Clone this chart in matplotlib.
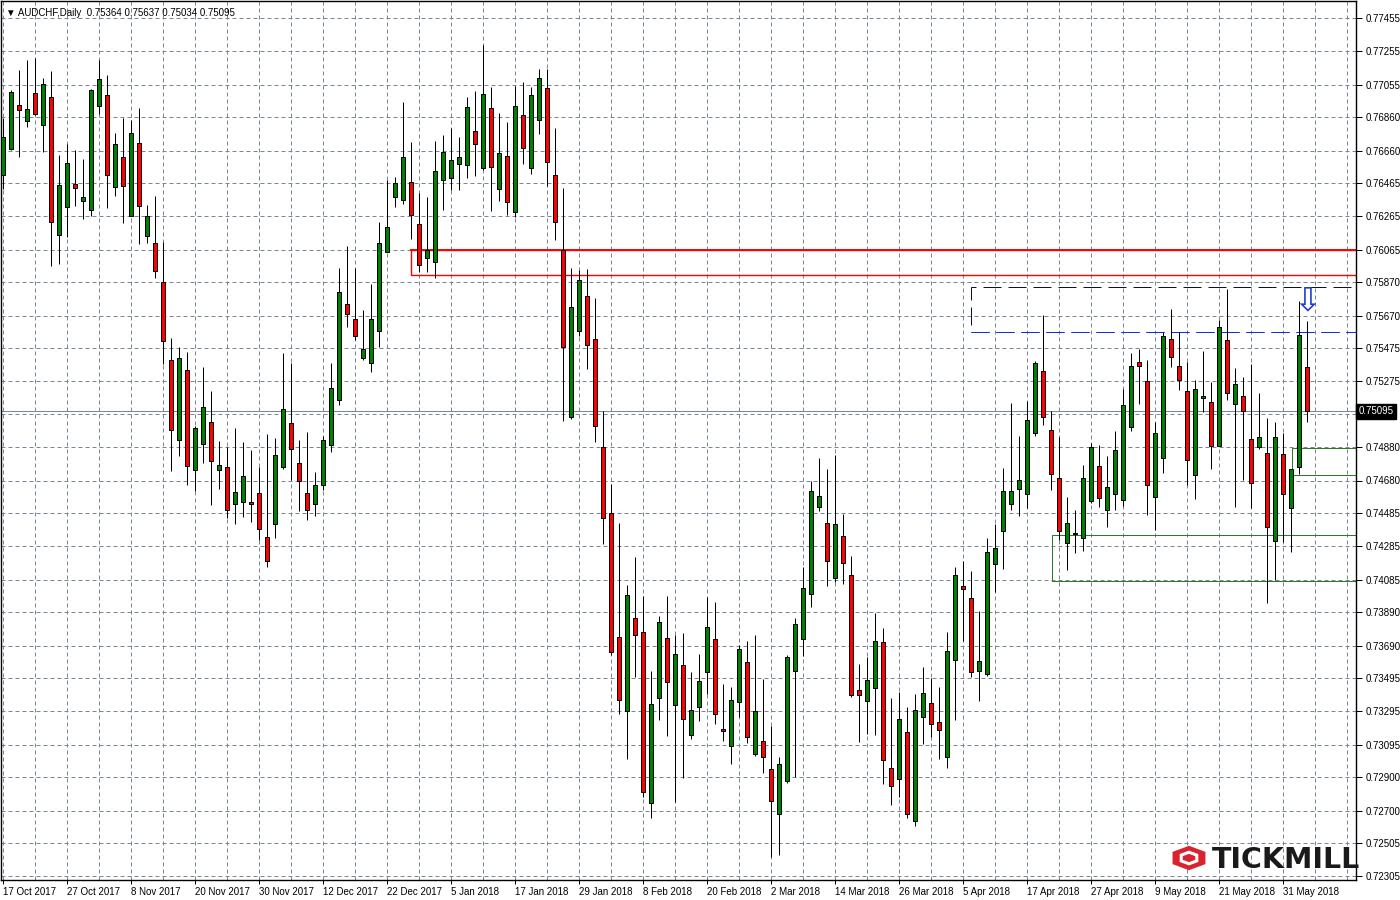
import numpy as np
import pandas as pd
import matplotlib
matplotlib.use("Agg")
import matplotlib.pyplot as plt
from matplotlib.patches import Rectangle, RegularPolygon
import matplotlib.transforms as mtransforms

plt.rcParams['font.family'] = ['Liberation Sans', 'DejaVu Sans']

# daily bars, weekdays only, no bars on 25 Dec and 1 Jan
dates = pd.bdate_range("2017-10-17", "2018-06-05")
dates = dates[~dates.isin([pd.Timestamp("2017-12-25"), pd.Timestamp("2018-01-01")])]

opens = [
    0.76513, 0.76669, 0.76933, 0.76837, 0.77005, 0.76813, 0.76981, 0.76153, 0.76321, 0.76459,
    0.76357, 0.76303, 0.76927, 0.76993, 0.76441, 0.76621, 0.76267, 0.76705, 0.76147, 0.76105,
    0.75871, 0.75403, 0.74923, 0.75343, 0.74743, 0.74899, 0.75031, 0.74743, 0.74761, 0.74539,
    0.74551, 0.74551, 0.74605, 0.74341, 0.74419, 0.74761, 0.75025, 0.74785, 0.74605, 0.74539,
    0.74653, 0.74893, 0.75163, 0.75739, 0.75649, 0.75415, 0.75385, 0.75577, 0.76051, 0.76381,
    0.76363, 0.76471, 0.76219, 0.76015, 0.75991, 0.76483, 0.76495, 0.76579, 0.76573, 0.76777,
    0.76555, 0.76915, 0.76429, 0.76627, 0.76291, 0.76873, 0.76555, 0.76843, 0.77035, 0.76513,
    0.76063, 0.75061, 0.75577, 0.75787, 0.75529, 0.74881, 0.74485, 0.73741, 0.73297, 0.73855,
    0.73771, 0.72745, 0.73375, 0.73735, 0.73333, 0.73573, 0.73153, 0.73321, 0.73531, 0.73729,
    0.73189, 0.73087, 0.73351, 0.73591, 0.73039, 0.73117, 0.72949, 0.72679, 0.72877, 0.73537,
    0.73729, 0.73999, 0.74521, 0.74425, 0.74095, 0.74347, 0.74113, 0.73423, 0.73357, 0.73435,
    0.73711, 0.72955, 0.72889, 0.73171, 0.72637, 0.73261, 0.73345, 0.73231, 0.73021, 0.73603,
    0.74047, 0.73975, 0.73537, 0.73519, 0.74179, 0.74377, 0.74539, 0.74629, 0.74599, 0.74965,
    0.75337, 0.74983, 0.74695, 0.74305, 0.74359, 0.74335, 0.74557, 0.74767, 0.74503, 0.74599,
    0.74563, 0.75001, 0.75391, 0.75277, 0.74581, 0.74815, 0.75529, 0.75367, 0.75217, 0.74713,
    0.75175, 0.75151, 0.74887, 0.75523, 0.75139, 0.75187, 0.74929, 0.74881, 0.74845, 0.74317,
    0.74839, 0.74515, 0.74761, 0.75364,
]
highs = [
    0.76855, 0.77023, 0.77143, 0.77203, 0.77215, 0.77095, 0.77137, 0.76633, 0.76699, 0.76663,
    0.76609, 0.77029, 0.77203, 0.77113, 0.76765, 0.76855, 0.76843, 0.76915, 0.76333, 0.76387,
    0.76111, 0.75535, 0.75481, 0.75451, 0.75007, 0.75361, 0.75217, 0.74917, 0.74881, 0.74995,
    0.74911, 0.74863, 0.74761, 0.74959, 0.74935, 0.75445, 0.75385, 0.74923, 0.74971, 0.74731,
    0.74947, 0.75385, 0.75955, 0.76087, 0.75955, 0.75703, 0.75859, 0.76231, 0.76483, 0.76501,
    0.76951, 0.76711, 0.76405, 0.76381, 0.76717, 0.76753, 0.76795, 0.76741, 0.76981, 0.77017,
    0.77293, 0.77041, 0.76885, 0.76831, 0.77047, 0.77071, 0.77041, 0.77149, 0.77149, 0.76795,
    0.76435, 0.75955, 0.75943, 0.75949, 0.75775, 0.75097, 0.74659, 0.74425, 0.74053, 0.74221,
    0.73987, 0.73537, 0.73867, 0.73987, 0.73753, 0.73765, 0.73531, 0.73639, 0.73981, 0.73951,
    0.73459, 0.73441, 0.73693, 0.73717, 0.73753, 0.73489, 0.73207, 0.73021, 0.73633, 0.73855,
    0.74161, 0.74677, 0.74815, 0.74749, 0.74833, 0.74479, 0.74227, 0.73579, 0.73621, 0.73885,
    0.73795, 0.73375, 0.73411, 0.73321, 0.73399, 0.73561, 0.73495, 0.73441, 0.73771, 0.74161,
    0.74197, 0.74137, 0.73897, 0.74335, 0.74419, 0.74755, 0.75145, 0.74947, 0.75157, 0.75397,
    0.75673, 0.75097, 0.74941, 0.74581, 0.74503, 0.74773, 0.74905, 0.74893, 0.74827, 0.74977,
    0.75229, 0.75445, 0.75469, 0.75403, 0.75031, 0.75571, 0.75709, 0.75571, 0.75391, 0.75283,
    0.75457, 0.75271, 0.75643, 0.75829, 0.75355, 0.75301, 0.75379, 0.75205, 0.75055, 0.75031,
    0.74965, 0.74749, 0.75757, 0.75637,
]
lows = [
    0.76429, 0.76663, 0.76621, 0.76801, 0.76873, 0.76651, 0.75967, 0.75979, 0.76141, 0.76327,
    0.76249, 0.76267, 0.76879, 0.76315, 0.76387, 0.76225, 0.76267, 0.76099, 0.76105, 0.75895,
    0.75379, 0.74737, 0.74827, 0.74653, 0.74617, 0.74785, 0.74533, 0.74629, 0.74455, 0.74419,
    0.74461, 0.74431, 0.74323, 0.74161, 0.74335, 0.74749, 0.74683, 0.74497, 0.74443, 0.74467,
    0.74623, 0.74851, 0.75133, 0.75601, 0.75523, 0.75403, 0.75331, 0.75481, 0.76051, 0.76321,
    0.76339, 0.76129, 0.75931, 0.75931, 0.75895, 0.76303, 0.76423, 0.76423, 0.76495, 0.76507,
    0.76543, 0.76297, 0.76357, 0.76273, 0.76261, 0.76579, 0.76519, 0.76759, 0.76447, 0.76123,
    0.75037, 0.75049, 0.75547, 0.75349, 0.74911, 0.74299, 0.73633, 0.73279, 0.73009, 0.73501,
    0.72781, 0.72655, 0.73243, 0.73147, 0.72751, 0.72895, 0.73129, 0.73237, 0.73399, 0.73219,
    0.73117, 0.72979, 0.73261, 0.73105, 0.73027, 0.72925, 0.72421, 0.72433, 0.72865, 0.72901,
    0.73627, 0.73921, 0.74497, 0.74047, 0.74071, 0.74059, 0.73381, 0.73111, 0.73159, 0.73153,
    0.72859, 0.72733, 0.72781, 0.72655, 0.72607, 0.73099, 0.73141, 0.73009, 0.72955, 0.73243,
    0.73717, 0.73501, 0.73357, 0.73507, 0.74011, 0.74149, 0.74503, 0.74467, 0.74515, 0.74947,
    0.75013, 0.74623, 0.74323, 0.74143, 0.74245, 0.74257, 0.74545, 0.74521, 0.74401, 0.74503,
    0.74527, 0.74977, 0.75139, 0.74473, 0.74383, 0.74725, 0.75361, 0.75223, 0.74653, 0.74569,
    0.75091, 0.74749, 0.74887, 0.75163, 0.74521, 0.74683, 0.74515, 0.74869, 0.73945, 0.74083,
    0.74311, 0.74251, 0.74719, 0.75034,
]
closes = [
    0.76741, 0.77011, 0.76903, 0.76909, 0.76879, 0.77059, 0.76231, 0.76453, 0.76585, 0.76435,
    0.76381, 0.77023, 0.77089, 0.76513, 0.76699, 0.76447, 0.76765, 0.76327, 0.76267, 0.75937,
    0.75517, 0.74983, 0.75415, 0.74767, 0.74995, 0.75121, 0.74797, 0.74773, 0.74503, 0.74611,
    0.74707, 0.74539, 0.74389, 0.74197, 0.74833, 0.75109, 0.74869, 0.74677, 0.74503, 0.74653,
    0.74923, 0.75235, 0.75811, 0.75679, 0.75547, 0.75469, 0.75649, 0.76105, 0.76201, 0.76465,
    0.76621, 0.76273, 0.75973, 0.76063, 0.76537, 0.76651, 0.76603, 0.76621, 0.76921, 0.76699,
    0.76999, 0.76561, 0.76645, 0.76351, 0.76927, 0.76675, 0.76993, 0.77095, 0.76591, 0.76231,
    0.75481, 0.75721, 0.75883, 0.75493, 0.75007, 0.74455, 0.73651, 0.73363, 0.73993, 0.73753,
    0.72811, 0.73339, 0.73831, 0.73471, 0.73639, 0.73249, 0.73303, 0.73477, 0.73801, 0.73279,
    0.73177, 0.73363, 0.73669, 0.73141, 0.73297, 0.73021, 0.72757, 0.72979, 0.73621, 0.73819,
    0.74035, 0.74617, 0.74587, 0.74197, 0.74419, 0.74185, 0.73393, 0.73393, 0.73483, 0.73717,
    0.73003, 0.72847, 0.73249, 0.72679, 0.73303, 0.73405, 0.73219, 0.73183, 0.73657, 0.74113,
    0.74029, 0.73531, 0.73597, 0.74251, 0.74275, 0.74617, 0.74617, 0.74683, 0.75043, 0.75385,
    0.75061, 0.74719, 0.74377, 0.74425, 0.74365, 0.74695, 0.74881, 0.74575, 0.74641, 0.74863,
    0.75133, 0.75367, 0.75367, 0.74653, 0.74965, 0.75547, 0.75421, 0.75283, 0.74803, 0.75229,
    0.75187, 0.74887, 0.75601, 0.75205, 0.75259, 0.75097, 0.74665, 0.74941, 0.74401, 0.74941,
    0.74599, 0.74749, 0.75553, 0.75095,
]

price_ticks = [0.77455, 0.77255, 0.77055, 0.76860, 0.76660, 0.76465, 0.76265, 0.76065,
               0.75870, 0.75670, 0.75475, 0.75275, 0.75080, 0.74880, 0.74680, 0.74485,
               0.74285, 0.74085, 0.73890, 0.73690, 0.73495, 0.73295, 0.73095, 0.72900,
               0.72700, 0.72505, 0.72305]
last_price = 0.75095
title = "\u25bc AUDCHF,Daily  0.75364 0.75637 0.75034 0.75095"

# drawn levels
resist_zone = (0.75913, 0.76063)   # red box
target_zone = (0.75571, 0.75841)   # dashed box
support_zone = (0.74077, 0.74353)  # green box
entry_zone = (0.74713, 0.74875)    # small green box

fig = plt.figure(figsize=(14, 9), dpi=100)
ax = fig.add_axes([1 / 1400, 20 / 900, 1355 / 1400, 879 / 900])
px = 0.72  # one pixel in points

x = np.arange(len(opens))
o = np.array(opens)
c = np.array(closes)
colors = np.where(c >= o, "#008000", "#ff0000")
body_lo = np.minimum(o, c)
body_h = np.maximum(np.abs(c - o), 0.00003)

# grid
for p in price_ticks:
    ax.axhline(p, color="#7b8794", lw=px, ls=(0, (4, 3)), zorder=0)
for gx in range(0, 172, 4):
    ax.axvline(gx, color="#7b8794", lw=px, ls=(0, (4, 3)), zorder=0)

# objects
ax.add_patch(Rectangle((51, resist_zone[0]), 200, resist_zone[1] - resist_zone[0],
                       fill=False, edgecolor="red", lw=1.0, zorder=1))
ax.plot([51, 200], [resist_zone[1]] * 2, color="red", lw=1.4, zorder=1)
ax.add_patch(Rectangle((121, target_zone[0]), 200, target_zone[1] - target_zone[0],
                       fill=False, edgecolor="#101040", lw=px, ls=(0, (18, 7)), zorder=1))
ax.plot([121, 200], [target_zone[0]] * 2, color="#1030e0", lw=px, ls=(0, (18, 7)), zorder=1)
ax.add_patch(Rectangle((131.1, support_zone[0]), 200, support_zone[1] - support_zone[0],
                       fill=False, edgecolor="#2a7a2a", lw=px, zorder=1))
ax.add_patch(Rectangle((161.1, entry_zone[0]), 200, entry_zone[1] - entry_zone[0],
                       fill=False, edgecolor="#2a7a2a", lw=px, zorder=1))
ax.axhline(last_price, color="#7b8794", lw=px, zorder=1)

# candles
ax.vlines(x, lows, highs, color="black", lw=px, zorder=2)
ax.bar(x, body_h, bottom=body_lo, width=0.52, color=colors, edgecolor="black",
       linewidth=px, zorder=3)

# arrow above last bar
ax.text(163, 0.75755, "\u21e9", ha="center", va="center", fontsize=24,
        color="#1a3cc8", family="DejaVu Sans", zorder=4)

ax.set_xlim(-0.25, 169.1)
ax.set_ylim(0.72283, 0.77557)

ax.yaxis.tick_right()
ax.set_yticks(price_ticks)
ax.set_yticklabels(["" if p == 0.75080 else f"{p:.5f}" for p in price_ticks])
ax.tick_params(axis="y", length=4, width=px, labelsize=7, pad=3, direction="out")

xt = list(range(0, len(dates), 8))
ax.set_xticks(xt)
ax.set_xticklabels([f"{dates[i].day} {dates[i]:%b %Y}" for i in xt])
for lbl in ax.get_xticklabels():
    lbl.set_ha("left")
ax.tick_params(axis="x", length=3, width=px, labelsize=7, pad=2, direction="out")
for s in ax.spines.values():
    s.set_linewidth(1.0)

# last price marker on the scale
trans = mtransforms.blended_transform_factory(ax.transAxes, ax.transData)
ax.text(1.002, last_price, "0.75095", transform=trans, ha="left", va="center",
        fontsize=7, color="white", zorder=5,
        bbox=dict(boxstyle="square,pad=0.25", fc="black", ec="black"))

ax.text(0.004, 0.992, title, transform=ax.transAxes, ha="left", va="top",
        fontsize=7, color="black")

# logo
hx, hy = 1189 / 1400, 1 - 858 / 900
fig.patches.append(RegularPolygon((hx, hy), numVertices=6, radius=19 / 1400,
                                  orientation=0, transform=fig.transFigure,
                                  fc="#d9232e", ec="none", zorder=10))
fig.patches.append(RegularPolygon((hx, hy), numVertices=6, radius=9 / 1400,
                                  orientation=0, transform=fig.transFigure,
                                  fc="none", ec="white", lw=2.2, zorder=11))
fig.text(1212 / 1400, 1 - 860 / 900, "TICKMILL", ha="left", va="center",
         family="DejaVu Sans", fontsize=20.5, fontweight="bold", color="#1a1a1a",
         zorder=10)

fig.savefig("out.png", dpi=100)
